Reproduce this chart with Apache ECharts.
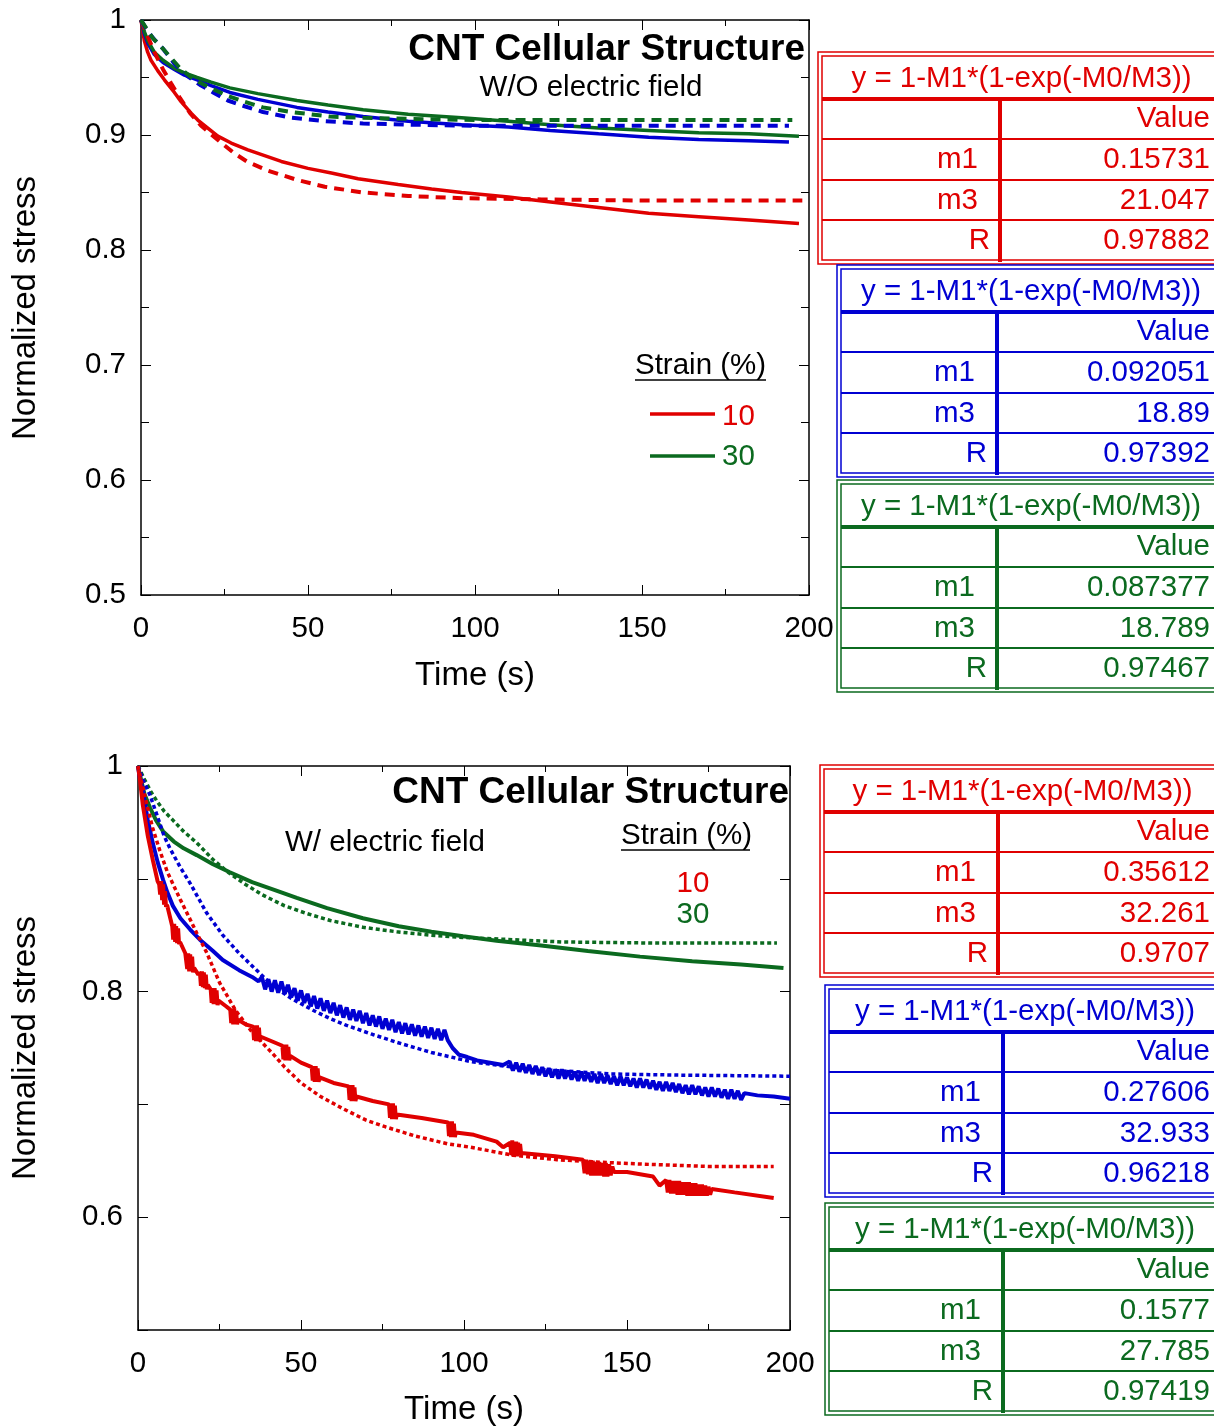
<!DOCTYPE html>
<html><head><meta charset="utf-8">
<script src="https://cdn.jsdelivr.net/npm/echarts@6/dist/echarts.min.js"></script>
<style>html,body{margin:0;padding:0;background:#fff}#c{width:1214px;height:1428px}</style>
</head><body><div id="c"></div><script>
// ---------- DATA ----------
const xTicks = [0, 50, 100, 150, 200];
// Top panel (W/O electric field)
const topRedSolid = [[0,1],[1,0.982],[2,0.972],[3,0.965],[5,0.956],[7,0.948],[10,0.937],[12,0.929],[15,0.919],[17,0.913],[20,0.906],[23,0.899],[27,0.893],[32,0.887],[37,0.882],[42,0.877],[50,0.871],[57,0.867],[65,0.862],[77,0.857],[87,0.853],[96,0.850],[110,0.846],[122,0.842],[137,0.837],[152,0.832],[167,0.829],[182,0.826],[197,0.823]];
const topRedFit = [[0,1],[2,0.986],[4,0.972],[6.6,0.957],[9,0.945],[11.7,0.932],[14.7,0.919],[18,0.908],[23.7,0.894],[28,0.884],[31.7,0.877],[38,0.869],[46.7,0.861],[55,0.855],[66.5,0.850],[80,0.847],[96,0.845],[120,0.844],[150,0.843],[198,0.843]];
const topBlueSolid = [[0,1],[1,0.988],[2,0.980],[4,0.970],[6.6,0.963],[10,0.957],[13,0.952],[16.8,0.948],[21,0.943],[26.6,0.937],[35,0.931],[46.7,0.924],[56,0.920],[66.5,0.916],[80,0.912],[96,0.909],[110,0.907],[122.5,0.904],[137,0.901],[152,0.898],[167,0.896],[182,0.895],[194,0.894]];
const topBlueFit = [[0,1],[2,0.990],[4,0.983],[6.6,0.975],[10,0.962],[14,0.951],[18,0.943],[21.6,0.937],[26,0.930],[31,0.925],[36.5,0.920],[45,0.915],[55,0.912],[66.5,0.910],[80,0.909],[100,0.908],[150,0.908],[194,0.908]];
const topGreenSolid = [[0,1],[1,0.990],[2,0.982],[4,0.972],[6.6,0.965],[10,0.958],[13,0.954],[16.8,0.950],[21,0.946],[26.6,0.941],[35,0.936],[46.7,0.930],[56,0.926],[66.5,0.922],[80,0.918],[96,0.915],[110,0.912],[122.5,0.909],[137,0.906],[152,0.904],[167,0.902],[182,0.901],[197,0.899]];
const topGreenFit = [[0,1],[2,0.991],[3.6,0.984],[6.6,0.975],[11.7,0.958],[16,0.948],[20.7,0.941],[26,0.934],[31,0.929],[36.5,0.924],[45,0.920],[56.6,0.916],[66.5,0.915],[80,0.914],[100,0.913],[150,0.913],[195,0.913]];
// Bottom panel (W/ electric field)
const botRedSolid = [[0,1],[0.5,0.99],[1.5,0.965],[3,0.938],[4.6,0.916],[6,0.898],
[6.5,0.895],[6.8,0.886],[7.1,0.898],[7.4,0.881],[7.7,0.895],[8.0,0.877],[8.3,0.889],[8.6,0.875],[8.9,0.877],
[10,0.864],
[10.5,0.858],[10.8,0.846],[11.1,0.860],[11.4,0.844],[11.7,0.858],[12.0,0.843],[12.3,0.856],[12.6,0.842],[12.9,0.844],
[14.5,0.834],
[14.8,0.833],[15.1,0.820],[15.4,0.834],[15.7,0.818],[16.0,0.833],[16.3,0.818],[16.6,0.831],[16.9,0.817],[17.2,0.821],
[18.5,0.815],
[19.0,0.817],[19.3,0.805],[19.6,0.818],[19.9,0.804],[20.2,0.817],[20.5,0.803],[20.8,0.815],[21.1,0.802],[21.4,0.806],
[22.3,0.802],[22.6,0.790],[22.9,0.803],[23.2,0.789],[23.5,0.803],[23.8,0.789],[24.1,0.801],[24.4,0.788],[24.7,0.792],
[27,0.787],
[28.3,0.784],[28.6,0.772],[28.9,0.785],[29.2,0.771],[29.5,0.785],[29.8,0.771],[30.1,0.783],[30.4,0.771],[30.7,0.775],
[33,0.771],
[35.3,0.769],[35.6,0.757],[35.9,0.770],[36.2,0.756],[36.5,0.770],[36.8,0.756],[37.1,0.768],[37.4,0.756],[37.7,0.760],
[41,0.756],
[44.3,0.752],[44.6,0.740],[44.9,0.753],[45.2,0.739],[45.5,0.753],[45.8,0.739],[46.1,0.751],[46.4,0.739],[46.7,0.743],
[50,0.737],
[53.3,0.733],[53.6,0.721],[53.9,0.734],[54.2,0.720],[54.5,0.734],[54.8,0.720],[55.1,0.732],[55.4,0.720],[55.7,0.724],
[60,0.719],
[64.6,0.716],[64.9,0.704],[65.2,0.717],[65.5,0.703],[65.8,0.717],[66.1,0.703],[66.4,0.715],[66.7,0.703],[67,0.707],
[72,0.703],
[77,0.700],[77.3,0.688],[77.6,0.701],[77.9,0.687],[78.2,0.701],[78.5,0.687],[78.8,0.699],[79.1,0.687],[79.4,0.691],
[87,0.688],
[95.1,0.684],[95.4,0.672],[95.7,0.685],[96.0,0.671],[96.3,0.685],[96.6,0.671],[96.9,0.683],[97.2,0.671],[97.5,0.675],
[103,0.673],[110,0.667],[112,0.662],
[114.2,0.666],[114.5,0.655],[114.8,0.668],[115.1,0.654],[115.4,0.667],[115.7,0.654],[116.0,0.667],[116.3,0.654],[116.6,0.666],[116.9,0.655],[117.2,0.665],[117.5,0.657],
[128,0.654],
[136.5,0.651],[137,0.639],[137.5,0.651],[138,0.638],[138.5,0.650],[139,0.637],[139.5,0.650],[140,0.637],[140.5,0.649],[141,0.637],[141.5,0.649],[142,0.637],[142.5,0.648],[143,0.636],[143.5,0.648],[144,0.636],[144.5,0.647],[145,0.637],[145.5,0.645],[146,0.640],
[150,0.640],[158,0.636],[160,0.628],
[162,0.633],[162.5,0.622],[163,0.633],[163.5,0.621],[164,0.632],[164.5,0.621],[165,0.632],[165.5,0.620],[166,0.632],[166.5,0.620],[167,0.631],[167.5,0.620],[168,0.631],[168.5,0.619],[169,0.631],[169.5,0.619],[170,0.630],[170.5,0.619],[171,0.630],[171.5,0.619],[172,0.629],[172.5,0.619],[173,0.629],[173.5,0.619],[174,0.628],[174.5,0.619],[175,0.627],[175.5,0.620],[176,0.625],
[183,0.622],[195,0.617]];
const botRedFit = [[0,1],[1,0.987],[2.8,0.965],[4.5,0.945],[6.7,0.925],[9,0.906],[12.9,0.882],[16,0.864],[18,0.852],[21,0.835],[25,0.808],[30,0.783],[35,0.764],[41,0.746],[45,0.733],[50,0.719],[56,0.707],[63,0.696],[70,0.686],[76,0.680],[85,0.672],[95,0.665],[102,0.662],[115,0.655],[128.5,0.651],[140,0.649],[155,0.647],[175,0.645],[195,0.645]];
const botBlueSolid = [[0,1],[0.5,0.99],[1.5,0.978],[3,0.952],[4.6,0.931],[6,0.915],[7.7,0.899],[9,0.888],[10.7,0.876],[13,0.865],[16,0.855],[19,0.846],[23,0.836],[26,0.828],[31,0.819],[35,0.813],[37,0.809],
[38,0.813],[39,0.802],[40,0.811],[41,0.800],[42,0.810],[43,0.799],[44,0.809],[45,0.798],[46,0.806],[47,0.795],[48,0.803],[49,0.792],[50,0.801],[51,0.790],[52,0.798],[53,0.787],[54,0.796],[55,0.785],[56,0.794],[57,0.783],[58,0.792],[59,0.781],[60,0.790],[61,0.779],[62,0.788],[63,0.777],[64,0.786],[65,0.775],[66,0.784],[67,0.774],[68,0.783],[69,0.772],[70,0.781],[71,0.770],[72,0.779],[73,0.769],[74,0.778],[75,0.767],[76,0.776],[77,0.766],[78,0.775],[79,0.764],[80,0.773],[81,0.763],[82,0.772],[83,0.762],[84,0.771],[85,0.761],[86,0.770],[87,0.760],[88,0.769],[89,0.759],[90,0.768],[91,0.758],[92,0.767],[93,0.757],[94,0.766],[95,0.757],
[96.5,0.750],[98.5,0.744],[101,0.742],[104,0.739],[108,0.737],[112,0.735],
[114,0.738],[115,0.730],[116,0.737],[117,0.729],[118,0.736],[119,0.728],[120,0.735],[121,0.727],[122,0.734],[123,0.726],[124,0.733],[125,0.725],[126,0.732],[127,0.724],[128,0.731],[129,0.723],[130,0.731],[131,0.723],[132,0.730],[133,0.722],[134,0.729],[135,0.721],[136,0.729],[137,0.721],[138,0.728],[139,0.720],[140,0.727],[141,0.719],[142,0.727],[143,0.719],[144,0.726],[145,0.718],[146,0.725],[147,0.717],[148,0.725],[149,0.717],[150,0.724],[151,0.716],[152,0.723],[153,0.715],[154,0.723],[155,0.715],[156,0.722],[157,0.714],[158,0.721],[159,0.713],[160,0.720],[161,0.712],[162,0.720],[163,0.712],[164,0.719],[165,0.711],[166,0.718],[167,0.710],[168,0.717],[169,0.709],[170,0.717],[171,0.709],[172,0.716],[173,0.708],[174,0.715],[175,0.707],[176,0.715],[177,0.707],[178,0.714],[179,0.706],[180,0.713],[181,0.705],[182,0.713],[183,0.705],[184,0.712],[185,0.704],[186,0.710],
[190,0.708],[195,0.707],[200,0.705]];
const botBlueFit = [[0,1],[1.5,0.988],[3.7,0.974],[6,0.955],[8,0.938],[9.8,0.927],[13,0.910],[16,0.896],[21,0.870],[26,0.850],[31,0.834],[36,0.820],[41.4,0.805],[47,0.794],[54,0.783],[59,0.776],[64,0.770],[72,0.762],[79.4,0.755],[90,0.746],[102,0.738],[115,0.733],[128.5,0.730],[145,0.727],[165,0.726],[200,0.725]];
const botGreenSolid = [[0,1],[0.6,0.992],[2,0.975],[3.7,0.963],[5.5,0.952],[7.7,0.942],[11,0.933],[14,0.927],[18,0.921],[23,0.913],[28,0.906],[35,0.897],[42,0.890],[48.7,0.883],[58,0.874],[69,0.865],[80,0.858],[90,0.853],[99.7,0.849],[110,0.845],[123,0.841],[138,0.836],[154,0.831],[170,0.827],[185,0.824],[198,0.821]];
const botGreenFit = [[0,1],[2,0.988],[4,0.977],[6,0.968],[8,0.960],[10.7,0.952],[14,0.942],[18,0.932],[23,0.917],[28,0.905],[33,0.895],[38,0.886],[45,0.876],[52,0.869],[59,0.863],[69,0.857],[79.4,0.853],[90,0.850],[100,0.848],[115,0.846],[130,0.844],[160,0.843],[196,0.843]];
// Fit tables
const tableFormula = 'y = 1-M1*(1-exp(-M0/M3))';
const tableHeader = 'Value';
const tableParams = ['m1', 'm3', 'R'];
const topRedVals = ['0.15731', '21.047', '0.97882'];
const topBlueVals = ['0.092051', '18.89', '0.97392'];
const topGreenVals = ['0.087377', '18.789', '0.97467'];
const botRedVals = ['0.35612', '32.261', '0.9707'];
const botBlueVals = ['0.27606', '32.933', '0.96218'];
const botGreenVals = ['0.1577', '27.785', '0.97419'];
const legendTitle = 'Strain (%)';
const legendNames = ['10', '30'];

// ---------- STYLE ----------
const RED = '#e00000', BLUE = '#0000d2', GREEN = '#0b6a1f';
const FF = '"Liberation Sans", Arial, sans-serif';
const TICK_FS = 29.5, TAB_FS = 29.5;

function xAxes(g) {
  const base = {gridIndex: g, type: 'value', min: 0, max: 200, interval: 50,
    axisLine: {show: true, onZero: false, lineStyle: {color: '#000', width: 1.5}},
    axisTick: {show: true, inside: true, length: 10, lineStyle: {color: '#000', width: 1}},
    minorTick: {show: true, splitNumber: 2, length: 6, lineStyle: {color: '#000', width: 1}},
    splitLine: {show: false}};
  return [
    Object.assign({}, base, {position: 'bottom', axisLabel: {show: true, fontSize: TICK_FS, color: '#000', fontFamily: FF, margin: 19,
      formatter: v => xTicks.includes(v) ? String(v) : ''}}),
    Object.assign({}, base, {position: 'top', axisLabel: {show: false}})
  ];
}
function yAxes(g, every) {
  const base = {gridIndex: g, type: 'value', min: 0.5, max: 1, interval: 0.1,
    axisLine: {show: true, onZero: false, lineStyle: {color: '#000', width: 1.5}},
    axisTick: {show: true, inside: true, length: 10, lineStyle: {color: '#000', width: 1}},
    minorTick: {show: every === 1, splitNumber: 2, length: 8, lineStyle: {color: '#000', width: 1}},
    splitLine: {show: false}};
  return [
    Object.assign({}, base, {position: 'left', axisLabel: {show: true, fontSize: TICK_FS, color: '#000', fontFamily: FF, margin: 15,
      formatter: v => { const k = Math.round(v * 10); if (every === 2 && k % 2 !== 0) return ''; return String(+v.toFixed(1)); }}}),
    Object.assign({}, base, {position: 'right', axisLabel: {show: false}})
  ];
}
function ser(data, g, color, kind) {
  let ls;
  if (kind === 'solid') ls = {color, width: g === 1 ? 4 : 3.5, type: 'solid'};
  else if (kind === 'dash') ls = {color, width: 4, type: [10, 7]};
  else ls = {color, width: 3.5, type: [4, 3]};
  return {type: 'line', xAxisIndex: g * 2, yAxisIndex: g * 2, data, showSymbol: false, symbol: 'none',
    lineStyle: ls, itemStyle: {color}, animation: false, silent: true, z: kind === 'solid' ? 2 : 3};
}
function txt(x, y, text, opt) {
  return {type: 'text', x, y, silent: true, z: 100, rotation: opt.rot || 0,
    style: {text, fill: opt.color || '#000', font: (opt.bold ? 'bold ' : '') + (opt.size || 28) + 'px ' + FF,
      align: opt.align || 'left', verticalAlign: 'middle'}};
}
function ln(x1, y1, x2, y2, color, w) {
  return {type: 'line', silent: true, z: 100, shape: {x1, y1, x2, y2}, style: {stroke: color, lineWidth: w}};
}
function table(left, top, vx, color, vals) {
  const R = 1226, el = [];
  el.push({type: 'rect', silent: true, z: 99, shape: {x: left, y: top, width: R - left, height: 212}, style: {fill: 'none', stroke: color, lineWidth: 1.5}});
  el.push({type: 'rect', silent: true, z: 99, shape: {x: left + 4, y: top + 4, width: R - left - 8, height: 204}, style: {fill: 'none', stroke: color, lineWidth: 1.5}});
  el.push(ln(left + 4, top + 47, R, top + 47, color, 4));
  [87, 128, 168].forEach(d => el.push(ln(left + 4, top + d, R, top + d, color, 2)));
  el.push(ln(vx, top + 47, vx, top + 210, color, 4));
  el.push(txt((left + 4 + 1221) / 2, top + 27, tableFormula, {color, align: 'center', size: TAB_FS}));
  el.push(txt(1210, top + 67, tableHeader, {color, align: 'right', size: TAB_FS}));
  const rowsY = [108, 149, 189];
  tableParams.forEach((p, i) => {
    el.push(txt(p === 'R' ? vx - 10 : vx - 22, top + rowsY[i], p, {color, align: 'right', size: TAB_FS}));
    el.push(txt(1210, top + rowsY[i], vals[i], {color, align: 'right', size: TAB_FS}));
  });
  return el;
}

const graphic = [].concat(
  // top panel texts
  txt(805, 50, 'CNT Cellular Structure', {bold: true, size: 37, align: 'right'}),
  txt(591, 88, 'W/O electric field', {size: 29.5, align: 'center'}),
  txt(635, 366, legendTitle, {size: 29.5}),
  ln(635, 380, 766, 380, '#000', 1.5),
  ln(650, 414, 715, 414, RED, 3.5), txt(722, 417, legendNames[0], {color: RED, size: 29.5}),
  ln(650, 456, 715, 456, GREEN, 3.5), txt(722, 457, legendNames[1], {color: GREEN, size: 29.5}),
  txt(475, 676, 'Time (s)', {size: 33, align: 'center'}),
  txt(26, 308, 'Normalized stress', {size: 33, align: 'center', rot: Math.PI / 2}),
  // bottom panel texts
  txt(789, 793, 'CNT Cellular Structure', {bold: true, size: 37, align: 'right'}),
  txt(385, 843, 'W/ electric field', {size: 29.5, align: 'center'}),
  txt(621, 836, legendTitle, {size: 29.5}),
  ln(621, 850, 750, 850, '#000', 1.5),
  txt(693, 884, legendNames[0], {color: RED, size: 29.5, align: 'center'}),
  txt(693, 915, legendNames[1], {color: GREEN, size: 29.5, align: 'center'}),
  txt(464, 1410, 'Time (s)', {size: 33, align: 'center'}),
  txt(26, 1048, 'Normalized stress', {size: 33, align: 'center', rot: Math.PI / 2}),
  // tables
  table(818, 52, 1000, RED, topRedVals),
  table(837, 265, 997, BLUE, topBlueVals),
  table(837, 480, 997, GREEN, topGreenVals),
  table(820, 765, 998, RED, botRedVals),
  table(825, 985, 1003, BLUE, botBlueVals),
  table(825, 1203, 1003, GREEN, botGreenVals)
);

const chart = echarts.init(document.getElementById('c'), null, {renderer: 'canvas'});
chart.setOption({
  animation: false,
  backgroundColor: '#fff',
  grid: [
    {left: 141, top: 20, width: 668, height: 575, outerBoundsMode: 'none', containLabel: false},
    {left: 138, top: 766, width: 652, height: 564, outerBoundsMode: 'none', containLabel: false}
  ],
  xAxis: xAxes(0).concat(xAxes(1)),
  yAxis: yAxes(0, 1).concat(yAxes(1, 2)),
  series: [
    ser(topRedSolid, 0, RED, 'solid'), ser(topBlueSolid, 0, BLUE, 'solid'), ser(topGreenSolid, 0, GREEN, 'solid'),
    ser(topRedFit, 0, RED, 'dash'), ser(topBlueFit, 0, BLUE, 'dash'), ser(topGreenFit, 0, GREEN, 'dash'),
    ser(botGreenSolid, 1, GREEN, 'solid'), ser(botBlueSolid, 1, BLUE, 'solid'), ser(botRedSolid, 1, RED, 'solid'),
    ser(botGreenFit, 1, GREEN, 'dot'), ser(botBlueFit, 1, BLUE, 'dot'), ser(botRedFit, 1, RED, 'dot')
  ],
  graphic: graphic
});
</script></body></html>
